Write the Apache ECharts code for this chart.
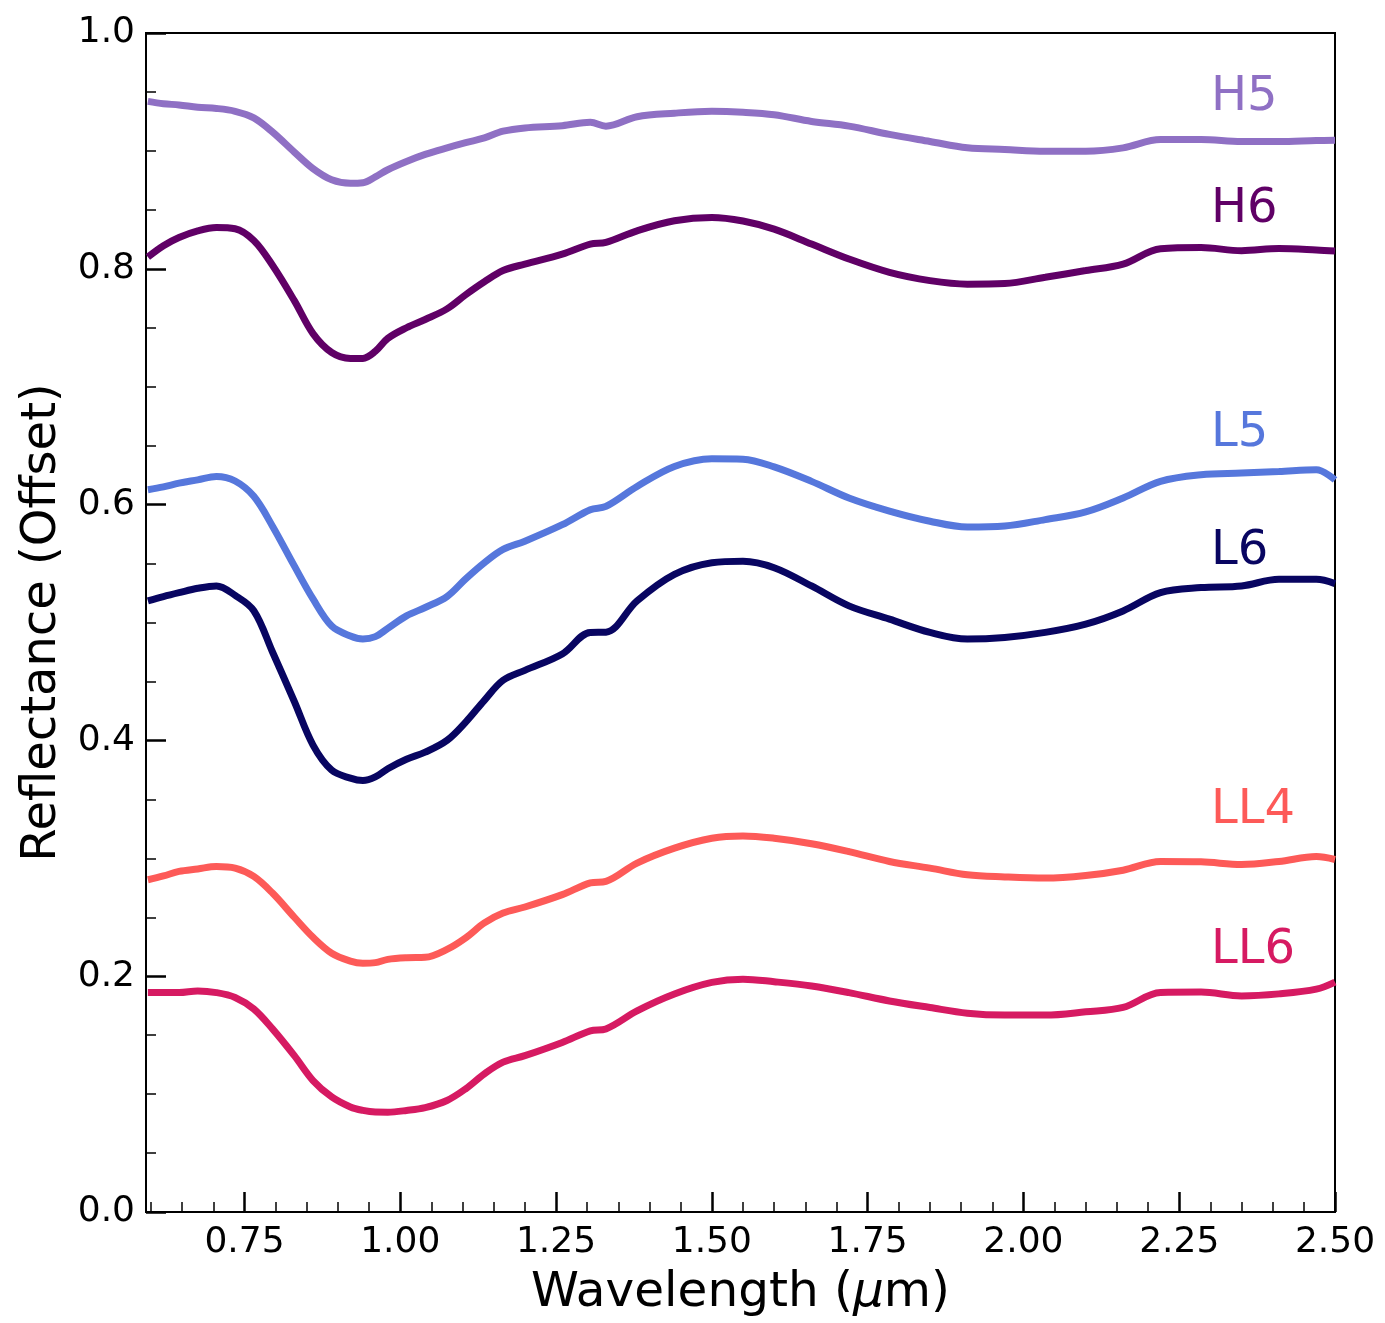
<!DOCTYPE html>
<html>
<head>
<meta charset="utf-8">
<script src="https://cdn.jsdelivr.net/npm/echarts@6/dist/echarts.min.js"></script>
<style>
html,body{margin:0;padding:0;background:#fff;}
#chart{width:1385px;height:1323px;}
</style>
</head>
<body>
<div id="chart"></div>
<script>
// Wavelength samples (micron)
const wavelength = [0.595, 0.62, 0.645, 0.675, 0.705, 0.735, 0.765, 0.795, 0.83, 0.86, 0.89, 0.92, 0.94, 0.96, 0.98, 1.01, 1.04, 1.075, 1.105, 1.135, 1.165, 1.2, 1.26, 1.305, 1.33, 1.38, 1.44, 1.5, 1.55, 1.6, 1.66, 1.72, 1.785, 1.85, 1.91, 1.97, 2.035, 2.1, 2.16, 2.22, 2.285, 2.35, 2.41, 2.47, 2.5];

const H5 = [0.942, 0.940, 0.939, 0.937, 0.936, 0.9336, 0.928, 0.916, 0.899, 0.885, 0.8755, 0.8725, 0.873, 0.878, 0.884, 0.891, 0.897, 0.9026, 0.907, 0.911, 0.9167, 0.9195, 0.9214, 0.9243, 0.921, 0.929, 0.932, 0.9336, 0.9328, 0.9307, 0.925, 0.921, 0.914, 0.908, 0.9026, 0.9012, 0.8998, 0.8998, 0.9026, 0.9096, 0.9096, 0.908, 0.908, 0.9088, 0.909];
const H6 = [0.810, 0.8196, 0.8266, 0.8322, 0.835, 0.834, 0.824, 0.803, 0.773, 0.745, 0.729, 0.724, 0.724, 0.730, 0.741, 0.750, 0.757, 0.766, 0.778, 0.789, 0.7985, 0.804, 0.8125, 0.821, 0.8224, 0.8322, 0.8407, 0.8435, 0.8405, 0.8336, 0.821, 0.8083, 0.797, 0.790, 0.787, 0.7875, 0.7928, 0.7985, 0.804, 0.817, 0.818, 0.8154, 0.8172, 0.816, 0.815];
const L5 = [0.6126, 0.615, 0.6182, 0.621, 0.6239, 0.620, 0.607, 0.5817, 0.548, 0.520, 0.497, 0.4885, 0.486, 0.488, 0.495, 0.5056, 0.5127, 0.522, 0.537, 0.5507, 0.562, 0.569, 0.583, 0.5957, 0.5985, 0.6154, 0.6323, 0.6389, 0.6385, 0.632, 0.6197, 0.6056, 0.5945, 0.5859, 0.581, 0.5818, 0.5873, 0.5938, 0.6056, 0.6197, 0.6253, 0.6267, 0.628, 0.6295, 0.621];
const L6 = [0.5183, 0.522, 0.5253, 0.529, 0.531, 0.523, 0.510, 0.475, 0.433, 0.396, 0.3747, 0.368, 0.366, 0.369, 0.376, 0.384, 0.390, 0.400, 0.4155, 0.434, 0.451, 0.4594, 0.4733, 0.4916, 0.4918, 0.5183, 0.5408, 0.5507, 0.552, 0.5465, 0.531, 0.5141, 0.5028, 0.4916, 0.4859, 0.4873, 0.4916, 0.4986, 0.5098, 0.5253, 0.5296, 0.531, 0.5366, 0.5366, 0.533];
const LL4 = [0.2818, 0.285, 0.2889, 0.291, 0.2931, 0.2917, 0.2846, 0.2705, 0.250, 0.233, 0.2195, 0.2128, 0.211, 0.2115, 0.2143, 0.2157, 0.216, 0.2227, 0.2325, 0.2452, 0.2536, 0.2587, 0.2692, 0.2791, 0.2804, 0.2959, 0.3086, 0.317, 0.319, 0.317, 0.3124, 0.3057, 0.2973, 0.2917, 0.286, 0.2842, 0.2832, 0.2854, 0.2899, 0.2973, 0.297, 0.2947, 0.2973, 0.3015, 0.299];
const LL6 = [0.1861, 0.1861, 0.1861, 0.1875, 0.1861, 0.182, 0.1722, 0.1553, 0.1326, 0.1115, 0.0976, 0.0891, 0.0862, 0.0848, 0.0847, 0.0861, 0.0885, 0.0946, 0.1045, 0.1172, 0.1271, 0.1326, 0.1438, 0.1537, 0.1553, 0.1706, 0.1849, 0.1947, 0.1975, 0.1953, 0.1917, 0.1861, 0.179, 0.1734, 0.1686, 0.167, 0.167, 0.1698, 0.1735, 0.1861, 0.1865, 0.1833, 0.185, 0.189, 0.195];

const seriesNames = ['H5', 'H6', 'L5', 'L6', 'LL4', 'LL6'];
const seriesValues = [H5, H6, L5, L6, LL4, LL6];
const seriesColors = ['#8f70c4', '#600066', '#5677dc', '#080561', '#fd5a58', '#d61a62'];

// label anchor (data coords, vertical middle of text)
const labelX = [2.301, 2.301, 2.301, 2.301, 2.301, 2.301];
const labelY = [0.9455, 0.8505, 0.6605, 0.5604, 0.3408, 0.2217];

const xMajorTicks = [0.75, 1.0, 1.25, 1.5, 1.75, 2.0, 2.25, 2.5];
const xMinorTicks = [];
for (let k = 12; k <= 50; k++) {
  const v = +(k * 0.05).toFixed(2);
  if (Math.abs(v / 0.25 - Math.round(v / 0.25)) > 1e-6) xMinorTicks.push(v);
}

const FONT = 'DejaVu Sans';
const X_MIN = 0.592, X_MAX = 2.5;

const series = seriesNames.map((name, i) => ({
  name: name,
  type: 'line',
  xAxisIndex: 0,
  yAxisIndex: 0,
  showSymbol: false,
  smooth: 0.35,
  lineStyle: { width: 7, color: seriesColors[i] },
  itemStyle: { color: seriesColors[i] },
  data: wavelength.map((w, j) => [w, seriesValues[i][j]]),
  z: 3
}));

series.push({
  type: 'scatter',
  symbolSize: 0,
  silent: true,
  z: 5,
  itemStyle: { opacity: 1 },
  data: seriesNames.map((n, i) => ({
    value: [labelX[i], labelY[i]],
    itemStyle: { opacity: 1, color: seriesColors[i] },
    label: {
      show: true,
      formatter: n,
      position: [0, 0],
      align: 'left',
      verticalAlign: 'middle',
      color: seriesColors[i],
      opacity: 1,
      fontSize: 48,
      fontFamily: FONT
    }
  }))
});

const chart = echarts.init(document.getElementById('chart'), null, { renderer: 'canvas' });
chart.setOption({
  animation: false,
  backgroundColor: '#fff',
  grid: { left: 146, right: 50, top: 33, bottom: 106, show: true, borderColor: '#000', borderWidth: 2, containLabel: false },
  xAxis: [
    {
      type: 'value', min: X_MIN, max: X_MAX, position: 'bottom',
      axisLine: { show: true, lineStyle: { color: '#000', width: 2 } },
      axisTick: { show: true, inside: true, length: 20, lineStyle: { color: '#000', width: 2.5 }, customValues: xMajorTicks },
      axisLabel: { show: true, customValues: xMajorTicks, formatter: v => v.toFixed(2), fontSize: 36, fontFamily: FONT, color: '#000', margin: 13 },
      splitLine: { show: false },
      name: '{a|Wavelength (}{b|μ}{a|m)}',
      nameLocation: 'middle',
      nameGap: 57,
      nameTextStyle: {
        rich: {
          a: { fontSize: 48.5, fontFamily: FONT, color: '#000' },
          b: { fontSize: 48.5, fontFamily: FONT, fontStyle: 'italic', color: '#000' }
        }
      }
    },
    {
      type: 'value', min: X_MIN, max: X_MAX, position: 'bottom',
      axisLine: { show: false },
      axisTick: { show: true, inside: true, length: 10, lineStyle: { color: '#000', width: 1.5 }, customValues: xMinorTicks },
      axisLabel: { show: false },
      splitLine: { show: false }
    }
  ],
  yAxis: {
    type: 'value', min: 0, max: 1, interval: 0.2,
    axisLine: { show: true, lineStyle: { color: '#000', width: 2 } },
    axisTick: { show: true, inside: true, length: 20, lineStyle: { color: '#000', width: 2.5 } },
    minorTick: { show: true, splitNumber: 4, length: 10, lineStyle: { color: '#000', width: 1.5 } },
    axisLabel: { formatter: v => v.toFixed(1), fontSize: 36, fontFamily: FONT, color: '#000', margin: 11 },
    splitLine: { show: false },
    minorSplitLine: { show: false },
    name: 'Reflectance (Offset)',
    nameLocation: 'middle',
    nameGap: 79,
    nameTextStyle: { fontSize: 48, fontFamily: FONT, color: '#000' }
  },
  series: series
});
</script>
</body>
</html>
